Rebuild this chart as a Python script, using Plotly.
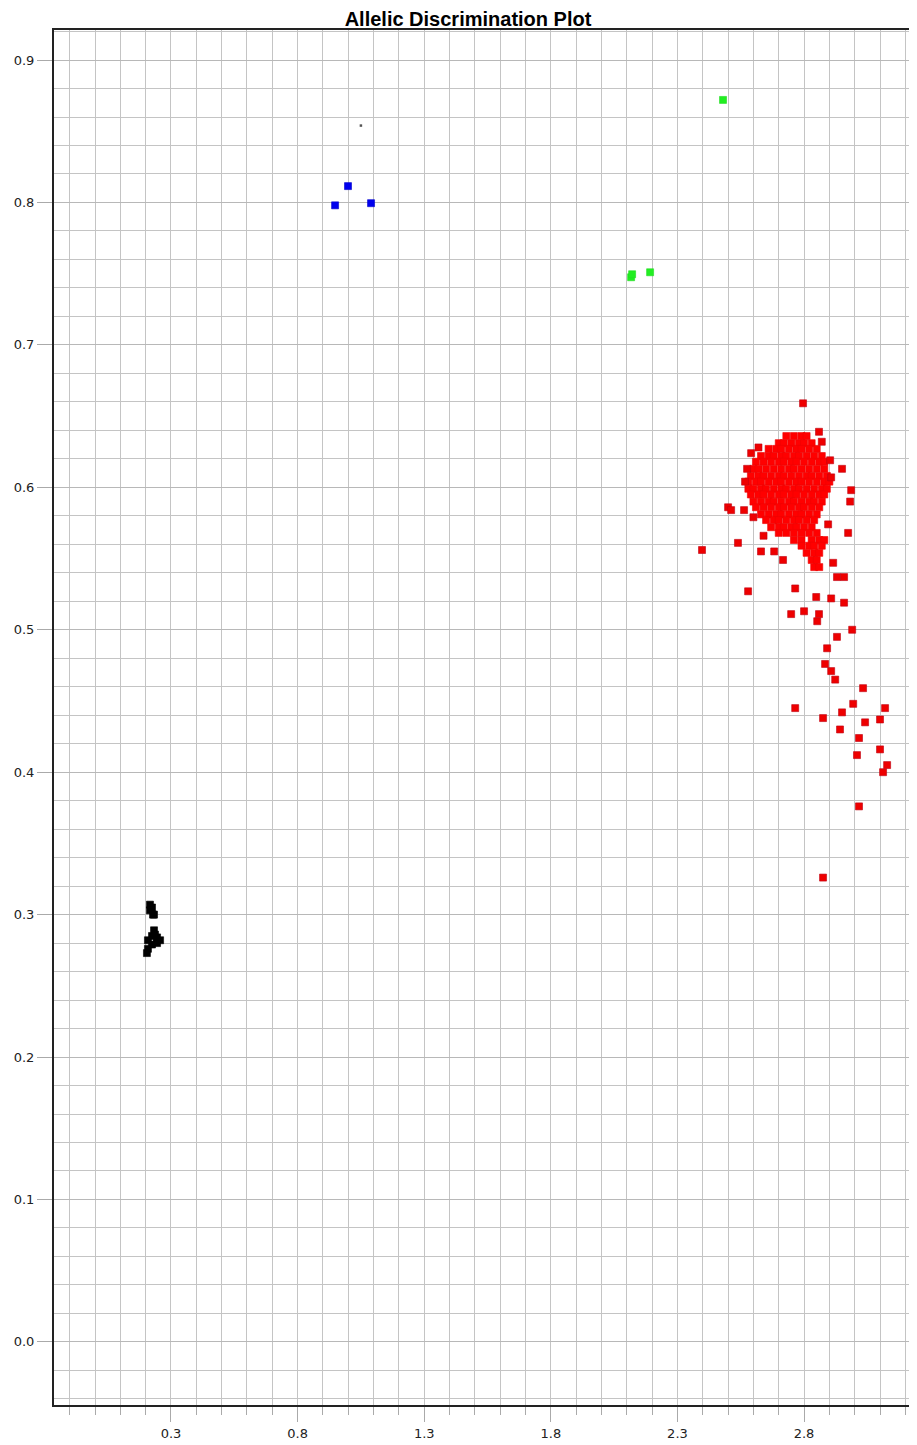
import plotly.graph_objects as go

# ---------------- data ----------------
red_outlier_x = [2.796, 2.397, 2.539, 2.579, 2.500, 2.512, 2.563, 2.591, 2.630, 2.682,
                 2.717, 2.765, 2.749, 2.800, 2.848, 2.859, 2.852, 2.907, 2.958, 2.915,
                 2.930, 2.958, 2.974, 2.982, 2.986, 2.950, 2.907, 2.903, 2.859, 2.990,
                 2.930, 2.891, 2.883, 2.907, 2.923, 3.033, 2.765, 2.994, 3.120, 2.875,
                 2.950, 3.041, 3.100, 2.942, 3.017, 3.100, 3.009, 3.128, 3.112, 3.017,
                 2.875, 2.575, 2.567, 2.620, 2.640, 2.870, 2.895, 2.600]
red_outlier_y = [0.659, 0.556, 0.561, 0.527, 0.586, 0.584, 0.584, 0.624, 0.555, 0.555,
                 0.549, 0.529, 0.511, 0.513, 0.523, 0.511, 0.506, 0.522, 0.519, 0.547,
                 0.537, 0.537, 0.568, 0.590, 0.598, 0.613, 0.607, 0.619, 0.639, 0.500,
                 0.495, 0.487, 0.476, 0.471, 0.465, 0.459, 0.445, 0.448, 0.445, 0.438,
                 0.442, 0.435, 0.437, 0.430, 0.424, 0.416, 0.412, 0.405, 0.400, 0.376,
                 0.326, 0.613, 0.604, 0.628, 0.566, 0.632, 0.574, 0.579]

# dense core of the red cluster, row by row (y value: list of x values)
red_core_rows = {
    0.636: [2.73, 2.76, 2.79, 2.81],
    0.631: [2.70, 2.72, 2.75, 2.78, 2.80, 2.83],
    0.627: [2.66, 2.69, 2.71, 2.74, 2.77, 2.79, 2.82, 2.85],
    0.622: [2.63, 2.66, 2.68, 2.71, 2.73, 2.76, 2.78, 2.81, 2.84, 2.87],
    0.618: [2.61, 2.64, 2.67, 2.70, 2.72, 2.75, 2.77, 2.80, 2.83, 2.86, 2.88],
    0.613: [2.60, 2.62, 2.65, 2.68, 2.71, 2.74, 2.76, 2.79, 2.82, 2.85, 2.88],
    0.608: [2.59, 2.62, 2.64, 2.67, 2.70, 2.72, 2.75, 2.78, 2.81, 2.83, 2.86, 2.89],
    0.604: [2.58, 2.61, 2.63, 2.66, 2.69, 2.71, 2.74, 2.77, 2.79, 2.82, 2.85, 2.88, 2.90],
    0.599: [2.58, 2.60, 2.63, 2.65, 2.68, 2.71, 2.73, 2.76, 2.78, 2.81, 2.84, 2.87, 2.89],
    0.595: [2.59, 2.62, 2.64, 2.67, 2.70, 2.72, 2.75, 2.77, 2.80, 2.83, 2.86, 2.88],
    0.590: [2.60, 2.63, 2.66, 2.68, 2.71, 2.74, 2.76, 2.79, 2.82, 2.84, 2.87],
    0.586: [2.61, 2.64, 2.67, 2.70, 2.72, 2.75, 2.78, 2.80, 2.83, 2.86],
    0.581: [2.63, 2.66, 2.69, 2.71, 2.74, 2.77, 2.79, 2.82, 2.85],
    0.577: [2.65, 2.68, 2.70, 2.73, 2.76, 2.78, 2.81, 2.84],
    0.572: [2.67, 2.70, 2.72, 2.75, 2.77, 2.80, 2.83],
    0.568: [2.70, 2.73, 2.76, 2.79, 2.82, 2.85],
    0.563: [2.76, 2.79, 2.83, 2.86, 2.88],
    0.559: [2.79, 2.82, 2.84, 2.87],
    0.554: [2.81, 2.84, 2.86],
    0.549: [2.83, 2.85],
    0.544: [2.84, 2.86],
}

blue_x = [0.948, 0.999, 1.090]
blue_y = [0.798, 0.8115, 0.7995]

green_x = [2.480, 2.117, 2.121, 2.192]
green_y = [0.872, 0.7475, 0.7496, 0.751]

black_x = [0.217, 0.225, 0.217, 0.233, 0.229, 0.233, 0.225, 0.245, 0.209, 0.257,
           0.225, 0.245, 0.209, 0.205, 0.237]
black_y = [0.307, 0.305, 0.303, 0.300, 0.300, 0.289, 0.285, 0.284, 0.282, 0.282,
           0.279, 0.280, 0.276, 0.273, 0.286]

nocall_x = [1.050]
nocall_y = [0.854]

x_range = [-0.162, 3.246]
y_range = [-0.0443, 0.9211]

# ---------------- figure ----------------
core_x, core_y = [], []
for yv, xs in red_core_rows.items():
    for xv in xs:
        core_x.append(xv)
        core_y.append(yv)

fig = go.Figure()

def sq(x, y, color, line_color, size=7):
    fig.add_trace(go.Scatter(
        x=x, y=y, mode="markers",
        marker=dict(symbol="square", size=size, color=color,
                    line=dict(color=line_color, width=0.6)),
        showlegend=False, hoverinfo="x+y"))

sq(core_x, core_y, "#ff0000", "#ee0000")
sq(red_outlier_x, red_outlier_y, "#ee0000", "#c00010")
sq(blue_x, blue_y, "#0000ee", "#0000cc")
sq(green_x, green_y, "#22ee22", "#22dd22")
sq(black_x, black_y, "#000000", "#000000")
fig.add_trace(go.Scatter(x=nocall_x, y=nocall_y, mode="markers",
                         marker=dict(symbol="square", size=2.5, color="#555555"),
                         showlegend=False))

grid_c = "#c4c4c4"
tick_font = dict(family="DejaVu Sans, Verdana, sans-serif", size=13, color="#222222")

# the page body adds an 8px offset; the figure is sized so the plot sits where it should
fig.update_layout(
    width=909, height=1437,
    margin=dict(l=46, r=0, t=22, b=40, autoexpand=False),
    paper_bgcolor="white", plot_bgcolor="white",
    title=dict(text="<b>Allelic Discrimination Plot</b>",
               x=460 / 909, xanchor="center", y=1 - 11 / 1437, yanchor="middle",
               yref="container",
               font=dict(family="Liberation Sans Narrow, Arial Narrow, Liberation Sans, Arial",
                         size=20, color="#000000")),
    xaxis=dict(range=x_range, tick0=0.3, dtick=0.5, showgrid=True, gridcolor=grid_c,
               gridwidth=1, zeroline=False, showline=True, linecolor="#222222",
               linewidth=2, mirror=True, ticks="outside", ticklen=15,
               tickcolor="#aaaaaa", tickformat=".1f", tickfont=tick_font,
               automargin=False,
               minor=dict(tick0=0.3, dtick=0.1, showgrid=True, gridcolor=grid_c,
                          gridwidth=1, ticks="outside", ticklen=8,
                          tickcolor="#aaaaaa")),
    yaxis=dict(range=y_range, tick0=0.0, dtick=0.1, showgrid=True, gridcolor="#b8b8b8",
               gridwidth=1, zeroline=False, showline=True, linecolor="#222222",
               linewidth=2, ticks="outside", ticklen=15, tickcolor="#aaaaaa",
               tickformat=".1f", tickfont=tick_font, automargin=False,
               minor=dict(tick0=0.0, dtick=0.02, showgrid=True, gridcolor=grid_c,
                          gridwidth=1)),
)

fig.write_html("out.html")
